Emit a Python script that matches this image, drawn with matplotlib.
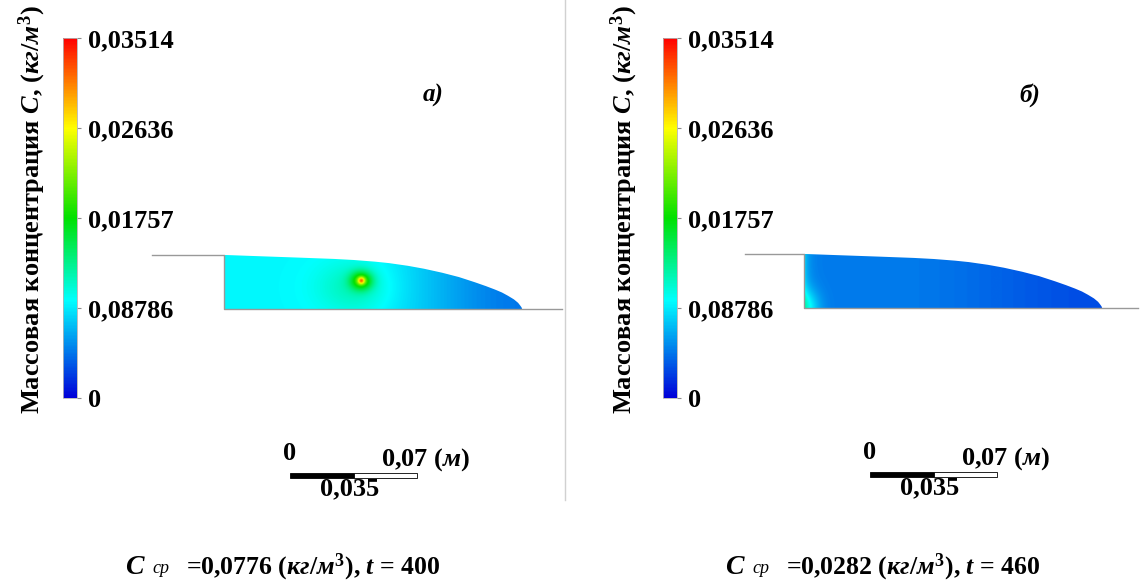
import numpy as np
import matplotlib
matplotlib.use('Agg')
import matplotlib.pyplot as plt
from matplotlib.colors import LinearSegmentedColormap, Normalize
from matplotlib.cm import ScalarMappable
from matplotlib.patches import Polygon, Rectangle
from matplotlib.lines import Line2D

plt.rcParams['font.family'] = 'Liberation Serif'
plt.rcParams['font.weight'] = 'bold'
plt.rcParams['mathtext.fontset'] = 'custom'
plt.rcParams['mathtext.rm'] = 'Liberation Serif:bold'
plt.rcParams['mathtext.it'] = 'Liberation Serif:italic:bold'
plt.rcParams['mathtext.bf'] = 'Liberation Serif:bold'

W, H = 1145, 583

# colour scale of the mass concentration
c_max = 0.03514
cbar_ticks = [0, 0.008786, 0.01757, 0.02636, 0.03514]
cbar_labels = ['0', '0,08786', '0,01757', '0,02636', '0,03514']

# upper boundary of the layer: distance from the wall (m) and thickness (m)
profile_x = [0.0, 0.0165, 0.0419, 0.0606, 0.0717, 0.0832, 0.0909, 0.1014, 0.1102,
             0.1202, 0.1295, 0.1384, 0.1444, 0.1494, 0.1532, 0.1565, 0.1598,
             0.1621, 0.1632, 0.1640, 0.1643]
profile_h = [0.0298, 0.0292, 0.0283, 0.0276, 0.0270, 0.0261, 0.0253, 0.0238, 0.0222,
             0.0200, 0.0176, 0.0147, 0.0126, 0.0107, 0.0091, 0.0073, 0.0053,
             0.0034, 0.0020, 0.0009, 0.0]

panel_tags = ['а)', 'б)']
c_mean = ['0,0776', '0,0282']
t_values = [400, 460]

# field description for each moment: background near the wall / at the tip,
# wall layer, hot spot (broad part and sharp core) and its halo
fields = [
    dict(left=0.0093, right=0.0045, ramp_start=0.42, wall=0.0, wall_w=0.003,
         corner=0.0, corner_w=0.006, corner_h=0.008,
         spot_u=0.0755, spot_v=0.0154,
         spot=0.0095, spot_su=0.0042, spot_sv=0.0035,
         core=0.011, core_s=0.0013,
         halo=0.0024, halo_u=0.071, halo_v=0.012, halo_su=0.014, halo_sv=0.010),
    dict(left=0.0046, right=0.0029, ramp_start=0.30, wall=0.0035, wall_w=0.0025,
         corner=0.0050, corner_w=0.008, corner_h=0.010,
         spot_u=0.07, spot_v=0.015,
         spot=0.0, spot_su=0.003, spot_sv=0.003,
         core=0.0, core_s=0.001,
         halo=0.0, halo_u=0.07, halo_v=0.012, halo_su=0.01, halo_sv=0.01),
]

cmap = LinearSegmentedColormap.from_list('conc', [
    (0.0, (0.0, 0.0, 0.85)),
    (0.27, (0.0, 1.0, 1.0)),
    (0.5, (0.0, 0.88, 0.0)),
    (0.75, (1.0, 1.0, 0.0)),
    (1.0, (1.0, 0.0, 0.0)),
])
norm = Normalize(0, c_max)

k = 127 / 0.07  # pixels per metre
L = profile_x[-1]


def fx(px):
    return px / W


def fy(py):
    return 1 - py / H


def gauss(du, dv, su, sv):
    return np.exp(-(du / su) ** 2 / 2 - (dv / sv) ** 2 / 2)


def concentration(u, v, p):
    s = np.clip((u / L - p['ramp_start']) / (1 - p['ramp_start']), 0, 1)
    s = s * s * (3 - 2 * s)
    c = p['left'] + (p['right'] - p['left']) * s
    c += p['wall'] * np.exp(-u / p['wall_w'])
    c += p['corner'] * np.exp(-(u / p['corner_w']) ** 2 - (v / p['corner_h']) ** 2)
    c += p['halo'] * gauss(u - p['halo_u'], v - p['halo_v'], p['halo_su'], p['halo_sv'])
    du, dv = u - p['spot_u'], v - p['spot_v']
    c += p['spot'] * gauss(du, dv, p['spot_su'], p['spot_sv'])
    c += p['core'] * gauss(du, dv, p['core_s'], p['core_s'])
    return c


fig = plt.figure(figsize=(W / 100, H / 100), dpi=100)

# domain origin (wall foot) in pixels, and extent of the thin boundary lines
origins = [(224, 309), (804, 308)]
left_line = [-0.0397, -0.0325]
right_line = [0.1863, 0.1841]

for i in range(2):
    dx = 600 * i

    # colour bar
    cax = fig.add_axes([fx(63 + dx), fy(398), 14 / W, 360 / H])
    cb = fig.colorbar(ScalarMappable(norm=norm, cmap=cmap), cax=cax)
    cb.set_ticks(cbar_ticks)
    cb.set_ticklabels(cbar_labels)
    cax.tick_params(labelsize=19, length=3, width=0.8, color='0.55', pad=5)
    cb.outline.set_edgecolor('0.7')
    cb.outline.set_linewidth(0.6)
    fig.text(fx(32 + dx - 8 * i), fy(209), 'Массовая концентрация $C$, ($кг/м^3$)',
             rotation=90, ha='center', va='center', fontsize=19)

    fig.text(fx(433 + 597 * i), fy(95), panel_tags[i], fontsize=18,
             style='italic', ha='center', va='center')

    # layer with the concentration field
    ox, oy = origins[i]
    ax = fig.add_axes([fx(ox - 124), fy(oy + 200), 480 / W, 280 / H])
    ax.set_xlim(-124 / k, 356 / k)
    ax.set_ylim(-200 / k, 80 / k)
    ax.axis('off')

    u = np.linspace(0, L, 700)
    v = np.linspace(0, profile_h[0], 140)
    U, V = np.meshgrid(u, v)
    C = concentration(U, V, fields[i])
    im = ax.imshow(C, extent=(0, L, 0, profile_h[0]), origin='lower', cmap=cmap,
                   norm=norm, interpolation='bilinear', aspect='auto')
    verts = [(0, 0)] + list(zip(profile_x, profile_h))
    shape = Polygon(verts, closed=True, facecolor='none', edgecolor='none')
    ax.add_patch(shape)
    im.set_clip_path(shape)

    ax.plot([left_line[i], 0, 0, right_line[i]],
            [profile_h[0], profile_h[0], 0, 0], color='0.6', lw=1)

    # scale bar
    x0, y0, bh = 0.0364, -0.0931, 0.0028
    ax.add_patch(Rectangle((x0, y0), 0.035, bh, facecolor='black', edgecolor='black', lw=0.6))
    ax.add_patch(Rectangle((x0 + 0.035, y0), 0.035, bh, facecolor='white',
                           edgecolor='black', lw=0.6))
    ax.text(x0, -0.0794, '0', fontsize=19, ha='center', va='center')
    ax.text(0.0866, -0.0832, '0,07 ($м$)', fontsize=19, ha='left', va='center')
    ax.text(0.0694, -0.0992, '0,035', fontsize=19, ha='center', va='center')

    # mean concentration caption
    fig.text(fx(125 + dx), fy(574), 'C', fontsize=20, style='italic')
    fig.text(fx(152 + dx), fy(573), 'ср', fontsize=13, style='italic', weight='normal')
    fig.text(fx(186 + dx), fy(574), '=' + c_mean[i] + ' ($кг/м^3$), $t$ = ' + str(t_values[i]),
             fontsize=18.5)

# divider between the two moments
fig.add_artist(Line2D([fx(565), fx(565)], [fy(0), fy(500)], color='0.82', lw=1))

fig.savefig('out.png', dpi=100)
